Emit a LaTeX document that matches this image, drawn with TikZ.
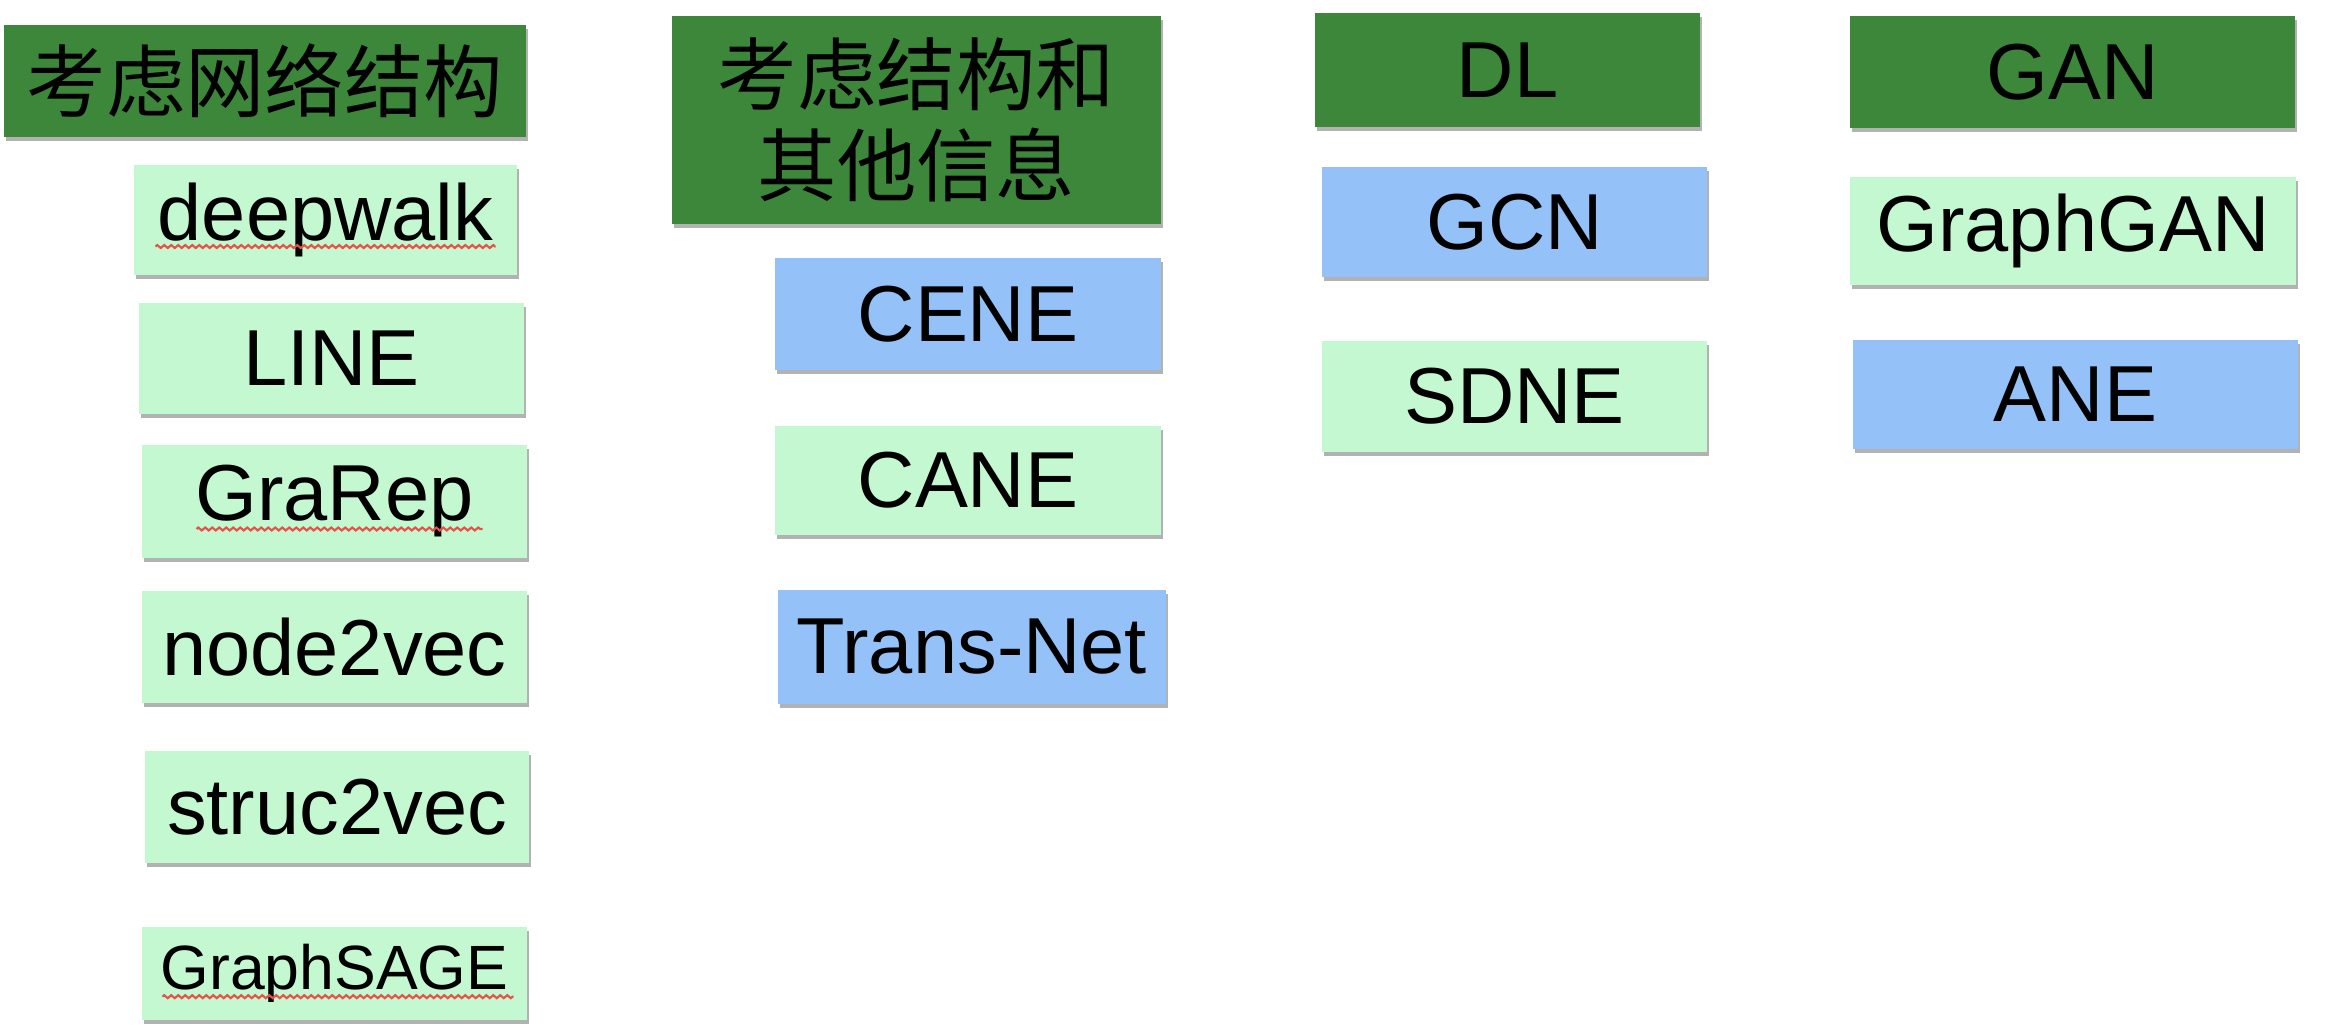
\documentclass[tikz,border=0pt]{standalone}
\usepackage{fontspec}
\setmainfont{Liberation Sans}
\newfontfamily\cjk{Noto Sans CJK SC}
\usetikzlibrary{shadows,decorations.pathmorphing}
\definecolor{headgreen}{RGB}{60,135,58}
\definecolor{mintgreen}{RGB}{196,248,208}
\definecolor{skyblue}{RGB}{148,193,247}
\definecolor{spellred}{RGB}{232,80,74}
\begin{document}
\begin{tikzpicture}[every text node part/.style={align=center},
    box/.style={rectangle, inner sep=0pt, minimum width=3.85cm, minimum height=1.11cm,
      font=\fontsize{22.6}{26}\selectfont,
      drop shadow={shadow xshift=0.02cm, shadow yshift=-0.04cm, opacity=0.3, fill=black}},
    head/.style={box, fill=headgreen},
    mint/.style={box, fill=mintgreen},
    sky/.style={box, fill=skyblue},
    spell/.style={draw=spellred, line width=0.6pt, decorate,
      decoration={zigzag, segment length=0.07cm, amplitude=0.015cm}}]
    \useasboundingbox (0,0) rectangle (23.38,-10.34);

    \node [head, minimum width=5.22cm, minimum height=1.12cm] (NeStr) at (2.65,-0.81) {\cjk 考虑网络结构};
    \node [mint, minimum width=3.83cm, minimum height=1.10cm] (NeDee) at (3.255,-2.20) {deepwalk};
    \node [mint] (NeLin) at (3.315,-3.585) {LINE};
    \node [mint, minimum height=1.13cm] (NeGra) at (3.345,-5.015) {GraRep};
    \node [mint, minimum height=1.12cm] (NeNod) at (3.345,-6.47) {node2vec};
    \node [mint, minimum width=3.84cm, minimum height=1.12cm] (NeStc) at (3.37,-8.07) {struc2vec};
    \node [mint, minimum height=0.93cm, font=\fontsize{17.8}{21}\selectfont] (NeSag) at (3.345,-9.735) {GraphSAGE};

    \node [head, minimum width=4.89cm, minimum height=2.08cm] (NeInf) at (9.165,-1.20) {\cjk 考虑结构和\\\cjk 其他信息};
    \node [sky, minimum width=3.86cm, minimum height=1.12cm] (NeCen) at (9.68,-3.14) {CENE};
    \node [mint, minimum width=3.86cm, minimum height=1.09cm] (NeCan) at (9.68,-4.805) {CANE};
    \node [sky, minimum width=3.88cm, minimum height=1.14cm] (NeTra) at (9.72,-6.47) {Trans-Net};

    \node [head, minimum height=1.14cm] (NeDl) at (15.075,-0.70) {DL};
    \node [sky, minimum height=1.10cm] (NeGcn) at (15.145,-2.22) {GCN};
    \node [mint] (NeSdn) at (15.145,-3.965) {SDNE};

    \node [head, minimum width=4.45cm, minimum height=1.12cm] (NeGan) at (20.725,-0.72) {GAN};
    \node [mint, minimum width=4.46cm, minimum height=1.08cm] (NeGgn) at (20.73,-2.31) {GraphGAN};
    \node [sky, minimum width=4.45cm, minimum height=1.09cm] (NeAne) at (20.755,-3.945) {ANE};

    \draw [spell] ([xshift=-1.70cm,yshift=-0.06cm]NeDee.base) -- ([xshift=1.70cm,yshift=-0.06cm]NeDee.base);
    \draw [spell] ([xshift=-1.38cm,yshift=-0.08cm]NeGra.base) -- ([xshift=1.48cm,yshift=-0.08cm]NeGra.base);
    \draw [spell] ([xshift=-1.72cm,yshift=-0.07cm]NeSag.base) -- ([xshift=1.79cm,yshift=-0.07cm]NeSag.base);
  \end{tikzpicture}
\end{document}
